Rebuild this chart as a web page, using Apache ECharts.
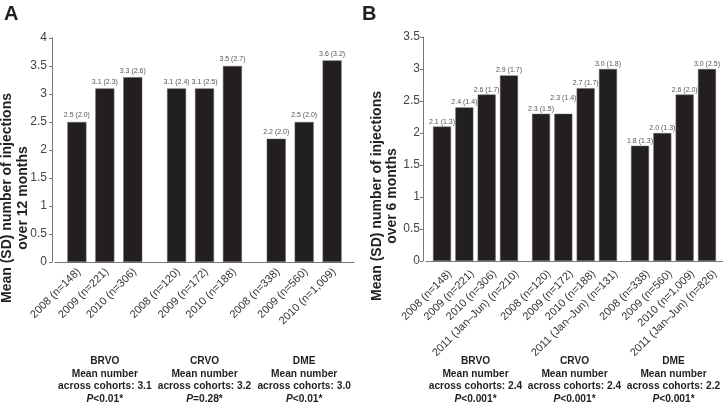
<!DOCTYPE html>
<html><head><meta charset="utf-8">
<script src="https://cdn.jsdelivr.net/npm/echarts@6/dist/echarts.min.js"></script>
<style>html,body{margin:0;padding:0;background:#fff}#c{width:723px;height:405px}</style>
</head><body><div id="c"></div>
<script>
// ---------- data ----------
const groups = ['BRVO', 'CRVO', 'DME'];
// Panel A: over 12 months
const yearsA = ['2008', '2009', '2010'];
const meanA2008 = [2.5, 3.1, 2.2];
const meanA2009 = [3.1, 3.1, 2.5];
const meanA2010 = [3.3, 3.5, 3.6];
const sdA2008 = [2.0, 2.4, 2.0];
const sdA2009 = [2.3, 2.5, 2.0];
const sdA2010 = [2.6, 2.7, 3.2];
const nA2008 = ['148', '120', '338'];
const nA2009 = ['221', '172', '560'];
const nA2010 = ['306', '188', '1,009'];
const acrossA = ['3.1', '3.2', '3.0'];
const pA = ['<0.01*', '=0.28*', '<0.01*'];
// Panel B: over 6 months
const yearsB = ['2008', '2009', '2010', '2011 (Jan\u2013Jun)'];
const meanB2008 = [2.1, 2.3, 1.8];
const meanB2009 = [2.4, 2.3, 2.0];
const meanB2010 = [2.6, 2.7, 2.6];
const meanB2011 = [2.9, 3.0, 3.0];
const sdB2008 = [1.3, 1.5, 1.3];
const sdB2009 = [1.4, 1.4, 1.3];
const sdB2010 = [1.7, 1.7, 2.0];
const sdB2011 = [1.7, 1.8, 2.5];
const nB2008 = ['148', '120', '338'];
const nB2009 = ['221', '172', '560'];
const nB2010 = ['306', '188', '1,009'];
const nB2011 = ['210', '131', '826'];
const acrossB = ['2.4', '2.4', '2.2'];
const pB = ['<0.001*', '<0.001*', '<0.001*'];
const yNameA = 'Mean (SD) number of injections\nover 12 months';
const yNameB = 'Mean (SD) number of injections\nover 6 months';

// ---------- style ----------
const FONT = 'Liberation Sans, Arial, Helvetica, sans-serif';
const BAR = '#231f20';

function makeSeries(year, means, sds, ns, idx, barWidth, barGap, lab, lift) {
  return {
    type: 'bar', name: year, xAxisIndex: idx, yAxisIndex: idx,
    data: means.map((v, i) => (lift && lift[i]) ? { value: v, label: { offset: [0, -lift[i]] } } : v),
    barWidth: barWidth, barGap: barGap,
    itemStyle: { color: BAR, borderColor: '#666', borderWidth: 0.5 },
    label: {
      show: true, position: 'top', distance: lab.dist, fontSize: 7,
      fontFamily: FONT, color: '#555',
      formatter: p => means[p.dataIndex].toFixed(1) + ' (' + sds[p.dataIndex].toFixed(1) + ')'
    },
    markPoint: {
      symbol: 'circle', symbolSize: 2, silent: true, animation: false,
      itemStyle: { color: 'rgba(0,0,0,0)' },
      label: {
        show: true, position: lab.pos, rotate: 45, align: 'right', verticalAlign: 'middle',
        fontSize: 11, fontFamily: FONT, color: '#333'
      },
      data: groups.map((g, i) => ({
        coord: [g, 0], value: 0,
        label: { formatter: year + ' (n=' + ns[i] + ')' }
      }))
    }
  };
}

const labA = { dist: 3, pos: [3, 9] };
const labB = { dist: 1.5, pos: [9, 12] };
const series = [
  makeSeries(yearsA[0], meanA2008, sdA2008, nA2008, 0, 19, '47%', labA),
  makeSeries(yearsA[1], meanA2009, sdA2009, nA2009, 0, 19, '47%', labA),
  makeSeries(yearsA[2], meanA2010, sdA2010, nA2010, 0, 19, '47%', labA),
  makeSeries(yearsB[0], meanB2008, sdB2008, nB2008, 1, 18, '24%', labB),
  makeSeries(yearsB[1], meanB2009, sdB2009, nB2009, 1, 18, '24%', labB, [0, 11, 0]),
  makeSeries(yearsB[2], meanB2010, sdB2010, nB2010, 1, 18, '24%', labB),
  makeSeries(yearsB[3], meanB2011, sdB2011, nB2011, 1, 18, '24%', labB)
];

function xAx(idx) {
  return {
    type: 'category', gridIndex: idx, data: groups,
    axisLine: { lineStyle: { color: '#777', width: 1 } },
    axisTick: { show: false }, axisLabel: { show: false }
  };
}
function yAx(idx, max, margin) {
  return {
    type: 'value', gridIndex: idx, min: 0, max: max, interval: 0.5, offset: 3,
    splitLine: { show: false },
    axisLine: { show: true, lineStyle: { color: '#777', width: 1 } },
    axisTick: { show: true, length: 3, lineStyle: { color: '#777' } },
    axisLabel: { fontSize: 12, fontFamily: FONT, color: '#444', margin: margin }
  };
}

const chart = echarts.init(document.getElementById('c'), null, { renderer: 'canvas' });
chart.setOption({
  animation: false,
  backgroundColor: '#fff',
  grid: [
    { left: 55, top: 38, width: 299, height: 224 },
    { left: 426, top: 37, width: 298, height: 224 }
  ],
  xAxis: [xAx(0), xAx(1)],
  yAxis: [yAx(0, 4, 5), yAx(1, 3.5, 3)],
  series: series
});

// annotations placed under each group centre
function notes(idx, across, p) {
  return groups.map((g, i) => {
    const cx = chart.convertToPixel({ xAxisIndex: idx }, g);
    return {
      type: 'text', x: cx, y: 380,
      style: {
        text: '{b|' + g + '}\n{b|Mean number}\n{b|across cohorts: ' + across[i] + '}\n{i|P}{b|' + p[i] + '}',
        align: 'center', verticalAlign: 'middle',
        rich: {
          b: { font: 'bold 10.2px ' + FONT, fill: '#231f20', lineHeight: 12.5 },
          i: { font: 'italic bold 10.2px ' + FONT, fill: '#231f20', lineHeight: 12.5 }
        }
      }
    };
  });
}
chart.setOption({
  graphic: [
    { type: 'text', x: 4, y: 4, style: { text: 'A', font: 'bold 20px ' + FONT, fill: '#231f20' } },
    { type: 'text', x: 362, y: 4, style: { text: 'B', font: 'bold 20px ' + FONT, fill: '#231f20' } },
    { type: 'text', x: 15, y: 198, rotation: Math.PI / 2,
      style: { text: yNameA, align: 'center', verticalAlign: 'middle', font: 'bold 14px ' + FONT, lineHeight: 16, fill: '#231f20' } },
    { type: 'text', x: 385, y: 196, rotation: Math.PI / 2,
      style: { text: yNameB, align: 'center', verticalAlign: 'middle', font: 'bold 14px ' + FONT, lineHeight: 15, fill: '#231f20' } }
  ].concat(notes(0, acrossA, pA)).concat(notes(1, acrossB, pB))
});
</script></body></html>
